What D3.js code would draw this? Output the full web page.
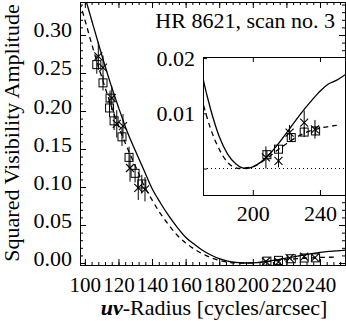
<!DOCTYPE html>
<html><head><meta charset="utf-8">
<script src="https://cdn.jsdelivr.net/npm/d3@7"></script>
<style>body{margin:0;background:#fff}svg text{font-family:"Liberation Serif","Times New Roman",serif}</style>
</head><body><svg id="c" width="346" height="321"></svg>
<script>
// ---- data ----
const solidR = [97,100,105,110,115,120,125,130,135,140,145,150,155,160,165,170,175,180,185,190,193,196,200,205,210,215,220,225,230,235,240,245,250,255];
const solidV = [0.376,0.351,0.312,0.274,0.238,0.205,0.174,0.148,0.123,0.098,0.079,0.062,0.047,0.034,0.0250,0.0168,0.0106,0.0058,0.0026,0.0008,0.0002,0,0.0003,0.0012,0.0026,0.0044,0.0064,0.0085,0.0105,0.0123,0.0140,0.0153,0.0160,0.0170];
const dashedR = [97,100,105,110,115,120,125,130,135,140,145,150,155,160,165,170,175,180,185,190,192,195,200,205,210,215,220,225,230,235,240,245,250];
const dashedV = [0.343,0.320,0.281,0.245,0.211,0.180,0.153,0.128,0.103,0.083,0.065,0.050,0.0365,0.0265,0.0185,0.0122,0.0071,0.0035,0.0011,0.0001,0,0.0001,0.0003,0.0011,0.0022,0.0034,0.0045,0.0055,0.0063,0.0069,0.0073,0.0076,0.0078];

const squareR   = [107.1,110.8,115.0,114.7,117.4,122.1,126.3,129.9,133.9, 208.4,215.3,222.9,230.6,237.4];
const squareV   = [0.261,0.237,0.217,0.204,0.187,0.166,0.139,0.118,0.104, 0.0025,0.0035,0.0056,0.0066,0.0068];
const squareErr = [0.012,0.010,0.010,0.012,0.012,0.012,0.014,0.012,0.012, 0.0008,0.0008,0.0008,0.0009,0.0008];

const crossR   = [108.0,110.8,116.0,119.0,122.7,126.9,131.8,135.8, 207.8,215.3,221.9,230.6,237.0];
const crossV   = [0.272,0.257,0.217,0.183,0.180,0.125,0.099,0.097, 0.0020,0.0014,0.0065,0.0083,0.0071];
const crossErr = [0.018,0.016,0.016,0.018,0.016,0.018,0.016,0.016, 0.0020,0.0012,0.0014,0.0022,0.0017];

const xTicks = [100,120,140,160,180,200,220,240];
const xTickLabels = ["100","120","140","160","180","200","220","240"];
const yTicks = [0,0.05,0.10,0.15,0.20,0.25,0.30];
const yTickLabels = ["0.00","0.05","0.10","0.15","0.20","0.25","0.30"];
const insetXTicks = [200,240];
const insetXTickLabels = ["200","240"];
const insetYTicks = [0,0.01,0.02];
const insetYTickLabels = ["","0.01","0.02"];
const title = "HR 8621, scan no. 3";
const yTitle = "Squared Visibility Amplitude";

// ---- layout ----
const svg = d3.select("#c");
const M = {l:80, r:345, t:2, b:265};
const I = {l:203, r:345, t:57, b:195};
const FS = 22;
const x = d3.scaleLinear().domain([97.1,254.9]).range([M.l,M.r]);
const y = d3.scaleLinear().domain([-0.0026,0.3434]).range([M.b,M.t]);
const yi = d3.scaleLinear().domain([-0.0048,0.0202]).range([I.b,I.t]);

svg.append("rect").attr("width",346).attr("height",321).attr("fill","#fff");
const defs = svg.append("defs");
defs.append("clipPath").attr("id","cm").append("rect").attr("x",M.l).attr("y",M.t).attr("width",M.r-M.l).attr("height",M.b-M.t);
defs.append("clipPath").attr("id","ci").append("rect").attr("x",I.l).attr("y",I.t).attr("width",I.r-I.l).attr("height",I.b-I.t);

function drawCurves(g, ys){
  const line = d3.line().x(d=>x(d[0])).y(d=>ys(d[1])).curve(d3.curveMonotoneX);
  g.append("path").attr("d", line(d3.zip(solidR,solidV))).attr("fill","none").attr("stroke","#000").attr("stroke-width",1.3);
  g.append("path").attr("d", line(d3.zip(dashedR,dashedV))).attr("fill","none").attr("stroke","#000").attr("stroke-width",1.3).attr("stroke-dasharray","5,4");
}
function drawPoints(g, ys){
  const s = 4;
  squareR.forEach((r,i)=>{
    const cx = x(r), cy = ys(squareV[i]);
    g.append("line").attr("x1",cx).attr("x2",cx).attr("y1",ys(squareV[i]-squareErr[i])).attr("y2",ys(squareV[i]+squareErr[i])).attr("stroke","#000").attr("stroke-width",1);
    g.append("rect").attr("x",cx-s).attr("y",cy-s).attr("width",2*s).attr("height",2*s).attr("fill","none").attr("stroke","#000").attr("stroke-width",1);
  });
  crossR.forEach((r,i)=>{
    const cx = x(r), cy = ys(crossV[i]);
    g.append("line").attr("x1",cx).attr("x2",cx).attr("y1",ys(crossV[i]-crossErr[i])).attr("y2",ys(crossV[i]+crossErr[i])).attr("stroke","#000").attr("stroke-width",1);
    g.append("line").attr("x1",cx-s).attr("x2",cx+s).attr("y1",cy-s).attr("y2",cy+s).attr("stroke","#000").attr("stroke-width",1.1);
    g.append("line").attr("x1",cx-s).attr("x2",cx+s).attr("y1",cy+s).attr("y2",cy-s).attr("stroke","#000").attr("stroke-width",1.1);
  });
}

// ---- main plot ----
const gm = svg.append("g").attr("clip-path","url(#cm)");
drawCurves(gm, y);
drawPoints(gm, y);

function styleAxis(g, fs){
  g.selectAll("path.domain").attr("stroke","#000");
  g.selectAll(".tick line").attr("stroke","#000");
  g.selectAll("text").attr("fill","#000").style("font-family",'"Liberation Serif",serif').style("font-size",(fs||FS)+"px");
}
const xMinor = d3.range(100,256,4);
const yMinor = d3.range(0,0.341,0.01);

// bottom
const gb = svg.append("g").attr("transform",`translate(0,${M.b})`);
gb.call(d3.axisBottom(x).tickValues(xMinor).tickSize(-3).tickSizeOuter(0).tickFormat(""));
gb.append("g").call(d3.axisBottom(x).tickValues(xTicks).tickSize(-6).tickSizeOuter(0).tickFormat((d,i)=>xTickLabels[i]))
  .call(g=>g.select(".domain").remove())
  .call(g=>g.selectAll("text").attr("y",27).attr("dy",0));
styleAxis(gb, 21);
// top
const gt = svg.append("g").attr("transform",`translate(0,${M.t})`);
gt.call(d3.axisTop(x).tickValues(xMinor).tickSize(-3).tickSizeOuter(0).tickFormat(""));
gt.append("g").call(d3.axisTop(x).tickValues(xTicks).tickSize(-6).tickSizeOuter(0).tickFormat("")).call(g=>g.select(".domain").remove());
styleAxis(gt);
// left
const gl = svg.append("g").attr("transform",`translate(${M.l},0)`);
gl.call(d3.axisLeft(y).tickValues(yMinor).tickSize(-3).tickSizeOuter(0).tickFormat(""));
gl.append("g").call(d3.axisLeft(y).tickValues(yTicks).tickSize(-6).tickSizeOuter(0).tickPadding(8).tickFormat((d,i)=>yTickLabels[i]))
  .call(g=>g.select(".domain").remove())
  .call(g=>g.selectAll("text").attr("dy",2));
styleAxis(gl);
// right
const gr = svg.append("g").attr("transform",`translate(${M.r},0)`);
gr.call(d3.axisRight(y).tickValues(yMinor).tickSize(-3).tickSizeOuter(0).tickFormat(""));
gr.append("g").call(d3.axisRight(y).tickValues(yTicks).tickSize(-6).tickSizeOuter(0).tickFormat("")).call(g=>g.select(".domain").remove());
styleAxis(gr);

// ---- inset ----
const gi = svg.append("g");
gi.append("rect").attr("x",I.l).attr("y",I.t).attr("width",I.r-I.l).attr("height",I.b-I.t).attr("fill","#fff");
const gic = gi.append("g").attr("clip-path","url(#ci)");
gic.append("line").attr("x1",I.l).attr("x2",I.r).attr("y1",yi(0)).attr("y2",yi(0)).attr("stroke","#000").attr("stroke-width",1).attr("stroke-dasharray","1,3");
drawCurves(gic, yi);
drawPoints(gic, yi);
const ib = gi.append("g").attr("transform",`translate(0,${I.b})`)
  .call(d3.axisBottom(x).tickValues(insetXTicks).tickSize(-5).tickSizeOuter(0).tickFormat((d,i)=>insetXTickLabels[i]))
  .call(g=>g.select(".domain").remove())
  .call(g=>g.selectAll("text").attr("y",26).attr("dy",0));
styleAxis(ib);
const it = gi.append("g").attr("transform",`translate(0,${I.t})`)
  .call(d3.axisTop(x).tickValues(insetXTicks).tickSize(-5).tickSizeOuter(0).tickFormat(""))
  .call(g=>g.select(".domain").remove());
styleAxis(it);
const il = gi.append("g").attr("transform",`translate(${I.l},0)`)
  .call(d3.axisLeft(yi).tickValues(insetYTicks).tickSize(-4).tickSizeOuter(0).tickPadding(8).tickFormat((d,i)=>insetYTickLabels[i]))
  .call(g=>g.select(".domain").remove())
  .call(g=>g.selectAll("text").attr("dy",7));
styleAxis(il);
gi.append("rect").attr("x",I.l+0.5).attr("y",I.t+0.5).attr("width",I.r-I.l).attr("height",I.b-I.t).attr("fill","none").attr("stroke","#000").attr("stroke-width",1);

// main frame
svg.append("rect").attr("x",M.l+0.5).attr("y",M.t+0.5).attr("width",M.r-M.l).attr("height",M.b-M.t).attr("fill","none").attr("stroke","#000").attr("stroke-width",1);

// ---- texts ----
svg.append("text").attr("x",335).attr("y",28).attr("text-anchor","end").style("font-size",FS+"px").text(title);
svg.append("text").attr("transform","translate(19,133) rotate(-90)").attr("text-anchor","middle").style("font-size",FS+"px").text(yTitle);
const xt = svg.append("text").attr("x",214).attr("y",315).attr("text-anchor","middle").style("font-size",FS+"px");
xt.append("tspan").style("font-weight","bold").style("font-style","italic").text("uv");
xt.append("tspan").text("-Radius [cycles/arcsec]");
</script></body></html>
